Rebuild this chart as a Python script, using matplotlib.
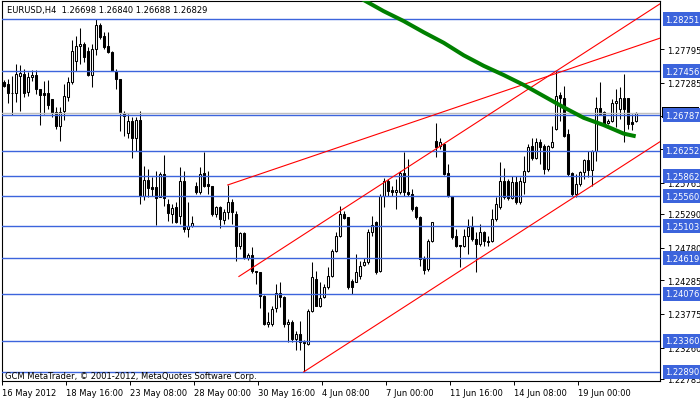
import matplotlib
matplotlib.use("Agg")
import matplotlib.pyplot as plt
import matplotlib.transforms as mtransforms
from matplotlib.patches import Rectangle

# EURUSD H4 candles, 16 May - 20 Jun 2012
opens = [1.2729, 1.2726, 1.2713, 1.2713, 1.2739, 1.2742, 1.2714, 1.2737, 1.2740, 1.2719,
         1.2713, 1.2713, 1.2704, 1.2684, 1.2663, 1.2685, 1.2707, 1.2729, 1.2761, 1.2784,
         1.2787, 1.2776, 1.2740, 1.2780, 1.2816, 1.2799, 1.2784, 1.2775, 1.2746, 1.2734,
         1.2682, 1.2652, 1.2670, 1.2644, 1.2672, 1.2556, 1.2581, 1.2570, 1.2570, 1.2555,
         1.2590, 1.2544, 1.2529, 1.2540, 1.2526, 1.2579, 1.2506, 1.2511, 1.2571, 1.2562,
         1.2591, 1.2574, 1.2571, 1.2529, 1.2540, 1.2520, 1.2532, 1.2547, 1.2529, 1.2480,
         1.2500, 1.2462, 1.2467, 1.2442, 1.2441, 1.2404, 1.2362, 1.2362, 1.2386, 1.2409,
         1.2403, 1.2362, 1.2365, 1.2339, 1.2347, 1.2334, 1.2331, 1.2382, 1.2430, 1.2389,
         1.2403, 1.2418, 1.2435, 1.2473, 1.2496, 1.2529, 1.2524, 1.2427, 1.2426, 1.2435,
         1.2451, 1.2456, 1.2502, 1.2517, 1.2442, 1.2556, 1.2579, 1.2565, 1.2562, 1.2562,
         1.2591, 1.2562, 1.2559, 1.2540, 1.2524, 1.2461, 1.2445, 1.2488, 1.2640, 1.2632,
         1.2635, 1.2591, 1.2556, 1.2496, 1.2482, 1.2480, 1.2496, 1.2509, 1.2491, 1.2483,
         1.2502, 1.2488, 1.2488, 1.2521, 1.2540, 1.2579, 1.2579, 1.2553, 1.2578, 1.2547,
         1.2578, 1.2594, 1.2632, 1.2614, 1.2638, 1.2632, 1.2597, 1.2631, 1.2658, 1.2710,
         1.2705, 1.2650, 1.2591, 1.2559, 1.2575, 1.2593, 1.2611, 1.2596, 1.2625, 1.2690,
         1.2684, 1.2667, 1.2670, 1.2698, 1.2688, 1.2705, 1.2705, 1.2669, 1.26698]
highs = [1.2732, 1.2734, 1.2739, 1.2757, 1.2755, 1.2749, 1.2745, 1.2748, 1.2748, 1.2719,
         1.2731, 1.2732, 1.2704, 1.2691, 1.2691, 1.2726, 1.2737, 1.2793, 1.2799, 1.2811,
         1.2790, 1.2783, 1.2787, 1.28251, 1.2819, 1.2805, 1.2805, 1.2776, 1.2749, 1.2734,
         1.2685, 1.2681, 1.2676, 1.2676, 1.2685, 1.2602, 1.2597, 1.2585, 1.2594, 1.2593,
         1.2619, 1.2552, 1.2544, 1.2547, 1.2600, 1.2594, 1.2547, 1.2526, 1.2578, 1.2600,
         1.2623, 1.2594, 1.2571, 1.2541, 1.2541, 1.2537, 1.2573, 1.2552, 1.2533, 1.2502,
         1.2502, 1.2470, 1.2479, 1.2443, 1.2441, 1.2406, 1.2380, 1.2389, 1.2423, 1.2426,
         1.2404, 1.2369, 1.2368, 1.2351, 1.2366, 1.2338, 1.2385, 1.2456, 1.2442, 1.2426,
         1.2423, 1.2448, 1.2476, 1.2502, 1.2541, 1.2533, 1.2524, 1.2430, 1.2468, 1.2458,
         1.2462, 1.2506, 1.2526, 1.2518, 1.2559, 1.2584, 1.2582, 1.2571, 1.2582, 1.2594,
         1.2623, 1.2612, 1.2567, 1.2541, 1.2526, 1.2465, 1.2491, 1.2517, 1.2667, 1.2644,
         1.2635, 1.2605, 1.2556, 1.2506, 1.2482, 1.2506, 1.2521, 1.2526, 1.2502, 1.2514,
         1.2503, 1.2496, 1.2537, 1.2555, 1.2608, 1.2599, 1.2582, 1.2587, 1.2587, 1.2585,
         1.2617, 1.2635, 1.2644, 1.2644, 1.2643, 1.2635, 1.2634, 1.2663, 1.27456, 1.2714,
         1.2723, 1.2658, 1.2593, 1.2590, 1.2594, 1.2612, 1.2625, 1.2626, 1.2707, 1.2729,
         1.2685, 1.2673, 1.2704, 1.2719, 1.2722, 1.2742, 1.2705, 1.2681, 1.26840]
lows = [1.2722, 1.2698, 1.2679, 1.2699, 1.2685, 1.2707, 1.2708, 1.2731, 1.2711, 1.2664,
        1.2681, 1.2688, 1.2676, 1.2658, 1.2640, 1.2672, 1.2701, 1.2727, 1.2746, 1.2757,
        1.2760, 1.2739, 1.2722, 1.2770, 1.2795, 1.2780, 1.2773, 1.2746, 1.2719, 1.2655,
        1.2647, 1.2644, 1.2614, 1.2625, 1.2544, 1.2550, 1.2555, 1.2556, 1.2512, 1.2555,
        1.2541, 1.2518, 1.2515, 1.2515, 1.2514, 1.2502, 1.2494, 1.2509, 1.2559, 1.2559,
        1.2570, 1.2559, 1.2526, 1.2524, 1.2508, 1.2514, 1.2521, 1.2514, 1.2458, 1.2476,
        1.2461, 1.2459, 1.2439, 1.2423, 1.2386, 1.2360, 1.2357, 1.2359, 1.2380, 1.2388,
        1.2357, 1.2334, 1.2334, 1.2322, 1.2322, 1.2289, 1.2330, 1.2380, 1.2389, 1.2388,
        1.2401, 1.2415, 1.2433, 1.2471, 1.2494, 1.2521, 1.2415, 1.2407, 1.2426, 1.2430,
        1.2450, 1.2453, 1.2496, 1.2438, 1.2441, 1.2540, 1.2556, 1.2556, 1.2537, 1.2559,
        1.2556, 1.2556, 1.2533, 1.2521, 1.2450, 1.2438, 1.2442, 1.2486, 1.2616, 1.2628,
        1.2588, 1.2555, 1.2491, 1.2479, 1.2448, 1.2479, 1.2468, 1.2488, 1.2441, 1.2480,
        1.2480, 1.2480, 1.2486, 1.2518, 1.2537, 1.2552, 1.2550, 1.2552, 1.2544, 1.2544,
        1.2559, 1.2593, 1.2611, 1.2612, 1.2605, 1.2590, 1.2594, 1.2629, 1.2657, 1.2670,
        1.2646, 1.2587, 1.2556, 1.2555, 1.2571, 1.2582, 1.2585, 1.2571, 1.2609, 1.2679,
        1.2663, 1.2666, 1.2669, 1.2661, 1.2673, 1.2638, 1.2658, 1.2657, 1.26688]
closes = [1.2723, 1.2713, 1.2712, 1.2742, 1.2743, 1.2713, 1.2737, 1.2740, 1.2719, 1.2710,
          1.2710, 1.2695, 1.2682, 1.2663, 1.2684, 1.2708, 1.2729, 1.2776, 1.2784, 1.2787,
          1.2767, 1.2740, 1.2780, 1.2816, 1.2798, 1.2783, 1.2775, 1.2746, 1.2734, 1.2682,
          1.2678, 1.2670, 1.2644, 1.2672, 1.2556, 1.2581, 1.2568, 1.2567, 1.2553, 1.2590,
          1.2553, 1.2530, 1.2538, 1.2517, 1.2579, 1.2506, 1.2511, 1.2515, 1.2562, 1.2590,
          1.2571, 1.2571, 1.2529, 1.2540, 1.2521, 1.2532, 1.2547, 1.2532, 1.2480, 1.2500,
          1.2462, 1.2467, 1.2442, 1.2441, 1.2404, 1.2362, 1.2365, 1.2385, 1.2409, 1.2403,
          1.2362, 1.2365, 1.2339, 1.2347, 1.2334, 1.2333, 1.2382, 1.2433, 1.2389, 1.2401,
          1.2418, 1.2435, 1.2473, 1.2496, 1.2529, 1.2523, 1.2418, 1.2418, 1.2441, 1.2450,
          1.2456, 1.2502, 1.2512, 1.2441, 1.2556, 1.2579, 1.2564, 1.2562, 1.2565, 1.2591,
          1.2562, 1.2559, 1.2537, 1.2524, 1.2461, 1.2444, 1.2488, 1.2517, 1.2631, 1.2638,
          1.2590, 1.2556, 1.2494, 1.2480, 1.2480, 1.2496, 1.2509, 1.2491, 1.2483, 1.2502,
          1.2488, 1.2486, 1.2521, 1.2544, 1.2579, 1.2555, 1.2553, 1.2578, 1.2547, 1.2579,
          1.2594, 1.2631, 1.2614, 1.2638, 1.2631, 1.2597, 1.2632, 1.2638, 1.2708, 1.2705,
          1.2647, 1.2590, 1.2559, 1.2575, 1.2593, 1.2611, 1.2596, 1.2625, 1.2690, 1.2681,
          1.2664, 1.2670, 1.2698, 1.2701, 1.2705, 1.2688, 1.2666, 1.2666, 1.26829]

# moving average (green), read at a few bars
ma_bars = [85, 90, 95, 100, 105, 110, 115, 120, 125, 130, 135, 140, 145, 150, 155, 158]
ma_vals = [1.2871, 1.2854, 1.2837, 1.2822, 1.2805, 1.2789, 1.2770, 1.2754, 1.2740, 1.2725,
           1.2708, 1.2691, 1.2675, 1.2664, 1.2651, 1.2647]

# horizontal levels (blue) and current bid
levels = [1.28251, 1.27456, 1.26787, 1.26252, 1.25862, 1.25560, 1.25103, 1.24619, 1.24076,
          1.23360, 1.22890]
bid = 1.26829

# trend lines: (start bar, start price), (second bar, second price)
trend_lines = [((56, 1.2573), (150, 1.2767)),
               ((58.8, 1.2434), (138, 1.27456)),
               ((75, 1.2289), (143, 1.2556))]

price_ticks = [1.27795, 1.27285, 1.26780, 1.26270, 1.25765, 1.25290, 1.24780, 1.24285,
               1.23775, 1.23260, 1.22785]
# labels of 1.26780 and 1.26270 sit fully under level boxes, so they are not shown
price_tick_labels = ["1.27795", "1.27285", "", "", "1.25765", "1.25290", "1.24780", "1.24285",
                     "1.23775", "1.23260", "1.22785"]
date_labels = ["16 May 2012", "18 May 16:00", "23 May 08:00", "28 May 00:00", "30 May 16:00",
               "4 Jun 08:00", "7 Jun 00:00", "11 Jun 16:00", "14 Jun 08:00", "19 Jun 00:00"]

blue = "#3c64dc"
fs = 6

fig = plt.figure(figsize=(7, 4.02), dpi=100)
ax = fig.add_axes([2 / 700, 20 / 402, 658 / 700, 380 / 402])
ax.set_xlim(-0.425, 164.075)
ax.set_ylim(1.22752, 1.28525)

# candles
idx = list(range(len(opens)))
ax.vlines(idx, lows, highs, color="black", lw=0.75, zorder=2)
body_bottom = [min(o, c) for o, c in zip(opens, closes)]
body_h = [abs(c - o) for o, c in zip(opens, closes)]
body_col = ["white" if c >= o else "black" for o, c in zip(opens, closes)]
ax.bar(idx, body_h, bottom=body_bottom, width=0.5, color=body_col, edgecolor="black",
       lw=0.75, zorder=2.1)

# levels
for lv in levels:
    ax.axhline(lv, color=blue, lw=1.0, zorder=3)
ax.axhline(bid, color="#c0c0c0", lw=1.0, zorder=2.9)

# trend lines as rays to the right
for (b1, p1), (b2, p2) in trend_lines:
    slope = (p2 - p1) / (b2 - b1)
    ax.plot([b1, 170], [p1, p1 + slope * (170 - b1)], color="red", lw=0.8, zorder=3.2)

ax.plot(ma_bars, ma_vals, color="#008000", lw=2.9, zorder=3.5, solid_capstyle="butt")

# axes look
for s in ax.spines.values():
    s.set_linewidth(0.8)
ax.set_xticks([k * 16 - 0.425 for k in range(len(date_labels))])
ax.set_xticklabels(date_labels, fontsize=fs, ha="left")
ax.tick_params(axis="x", direction="out", length=3, width=0.7, pad=2)
ax.yaxis.tick_right()
ax.set_yticks(price_ticks)
ax.set_yticklabels(price_tick_labels, fontsize=fs)
ax.tick_params(axis="y", direction="out", length=3, width=0.7, pad=2)

trans = mtransforms.blended_transform_factory(ax.transAxes, ax.transData)
xlab = (665 - 2) / 658
# bid marker peeking out behind the 1.26787 box
ax.add_patch(Rectangle(((662 - 2) / 658, bid - 0.00083), 37 / 658, 0.00166, transform=trans,
                       fc="black", ec="none", clip_on=False, zorder=5))
for lv in levels:
    ax.text(xlab, lv, f"{lv:.5f}", transform=trans, fontsize=fs, color="white", va="center",
            ha="left", clip_on=False, zorder=6,
            bbox=dict(boxstyle="square,pad=0.3", fc=blue, ec="none"))

ax.text(5 / 658, 1 - 9 / 380, "EURUSD,H4  1.26698 1.26840 1.26688 1.26829",
        transform=ax.transAxes, fontsize=fs, va="center", ha="left", zorder=7)
ax.text(3 / 658, 5 / 380, "GCM MetaTrader, \u00a9 2001-2012, MetaQuotes Software Corp.",
        transform=ax.transAxes, fontsize=fs, va="center", ha="left", zorder=7)

fig.savefig("out.png", dpi=100)
